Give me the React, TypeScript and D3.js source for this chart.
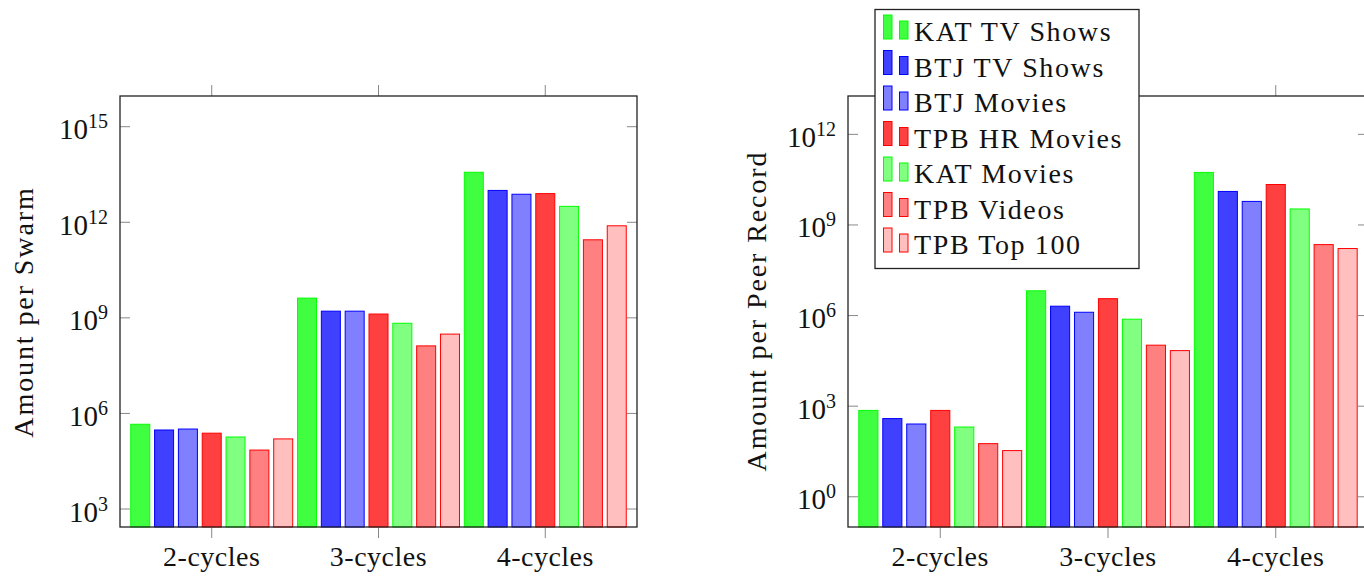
import * as d3 from 'd3'

const groups = ['2-cycles', '3-cycles', '4-cycles']

const seriesNames = [
  'KAT TV Shows',
  'BTJ TV Shows',
  'BTJ Movies',
  'TPB HR Movies',
  'KAT Movies',
  'TPB Videos',
  'TPB Top 100',
]

// exponents, one row per series, one value per group
const swarmExp = [
  [5.66, 9.62, 13.57],
  [5.48, 9.21, 13.0],
  [5.51, 9.21, 12.88],
  [5.38, 9.12, 12.9],
  [5.26, 8.83, 12.5],
  [4.85, 8.12, 11.45],
  [5.2, 8.49, 11.89],
]

const peerExp = [
  [2.86, 6.82, 10.74],
  [2.59, 6.31, 10.11],
  [2.41, 6.11, 9.78],
  [2.86, 6.56, 10.34],
  [2.31, 5.88, 9.53],
  [1.76, 5.02, 8.35],
  [1.53, 4.84, 8.22],
]

const swarmTicks = [3, 6, 9, 12, 15]
const peerTicks = [0, 3, 6, 9, 12]

const fills = ['#40ff40', '#4040ff', '#8080ff', '#ff4040', '#80ff80', '#ff8080', '#ffbfbf']
const strokes = ['#00ff00', '#0000ff', '#0000ff', '#ff0000', '#00ff00', '#ff0000', '#ff0000']

const FONT = '"Liberation Serif", "DejaVu Serif", serif'
const TOP = 96
const BOTTOM = 527

interface PanelProps {
  left: number
  right: number
  expDomain: [number, number]
  ticks: number[]
  data: number[][]
  title: string
  titleX: number
  titleY: number
}

function Panel({ left, right, expDomain, ticks, data, title, titleX, titleY }: PanelProps) {
  const x = d3.scaleLinear().domain([-0.55, 2.55]).range([left, right])
  const y = d3
    .scaleLog()
    .domain([Math.pow(10, expDomain[0]), Math.pow(10, expDomain[1])])
    .range([BOTTOM, TOP])
  const barW = x(0.114) - x(0)
  const n = seriesNames.length

  return (
    <g>
      {/* bars */}
      {data.map((row, s) =>
        row.map((e, g) => {
          const cx = x(g + (s - (n - 1) / 2) / n)
          const top = y(Math.pow(10, e))
          return (
            <rect
              key={`${s}-${g}`}
              x={cx - barW / 2}
              y={top}
              width={barW}
              height={BOTTOM - top}
              fill={fills[s]}
              stroke={strokes[s]}
              strokeWidth={1}
            />
          )
        })
      )}

      {/* y ticks, inward on both sides */}
      {ticks.map((t) => {
        const ty = y(Math.pow(10, t))
        return (
          <g key={t}>
            <line x1={left} x2={left + 10} y1={ty} y2={ty} stroke="#888" strokeWidth={1} />
            <line x1={right} x2={right - 10} y1={ty} y2={ty} stroke="#888" strokeWidth={1} />
            <text x={left - 12} y={ty + 12.5} textAnchor="end" fontFamily={FONT} fontSize={29} fill="#111">
              10
              <tspan dy={-11} fontSize={20}>
                {t}
              </tspan>
            </text>
          </g>
        )
      })}

      {/* x ticks, outward top and bottom */}
      {groups.map((name, g) => (
        <g key={name}>
          <line x1={x(g)} x2={x(g)} y1={BOTTOM} y2={BOTTOM + 11} stroke="#888" strokeWidth={1} />
          <line x1={x(g)} x2={x(g)} y1={TOP} y2={TOP - 11} stroke="#888" strokeWidth={1} />
          <text x={x(g)} y={566} textAnchor="middle" fontFamily={FONT} fontSize={28} letterSpacing={0.5} fill="#111">
            {name}
          </text>
        </g>
      ))}

      <rect
        x={left}
        y={TOP}
        width={right - left}
        height={BOTTOM - TOP}
        fill="none"
        stroke="#222"
        strokeWidth={1.3}
      />

      <text
        transform={`translate(${titleX},${titleY}) rotate(-90)`}
        textAnchor="middle"
        fontFamily={FONT}
        fontSize={28}
        letterSpacing={1.9}
        fill="#111"
      >
        {title}
      </text>
    </g>
  )
}

function Legend() {
  const x0 = 875
  const y0 = 9.5
  const rowH = 35.5
  return (
    <g>
      <rect x={x0} y={y0} width={264} height={259} fill="#fff" stroke="#222" strokeWidth={1.3} />
      {seriesNames.map((name, i) => {
        const base = 41 + i * rowH
        return (
          <g key={name}>
            <rect x={883.5} y={base - 26} width={8.5} height={24} fill={fills[i]} stroke={strokes[i]} strokeWidth={1} />
            <rect x={899.5} y={base - 20} width={8.5} height={18} fill={fills[i]} stroke={strokes[i]} strokeWidth={1} />
            <text x={914} y={base} fontFamily={FONT} fontSize={28} letterSpacing={1.6} fill="#111">
              {name}
            </text>
          </g>
        )
      })}
    </g>
  )
}

export default function App() {
  return (
    <svg
      width={1364}
      height={576}
      style={{ position: 'absolute', left: 0, top: 0, background: '#fff' }}
    >
      <Panel
        left={120}
        right={637}
        expDomain={[2.435, 15.964]}
        ticks={swarmTicks}
        data={swarmExp}
        title="Amount per Swarm"
        titleX={33}
        titleY={312}
      />
      <Panel
        left={848}
        right={1368}
        expDomain={[-1.0, 13.27]}
        ticks={peerTicks}
        data={peerExp}
        title="Amount per Peer Record"
        titleX={766}
        titleY={311}
      />
      <Legend />
    </svg>
  )
}
